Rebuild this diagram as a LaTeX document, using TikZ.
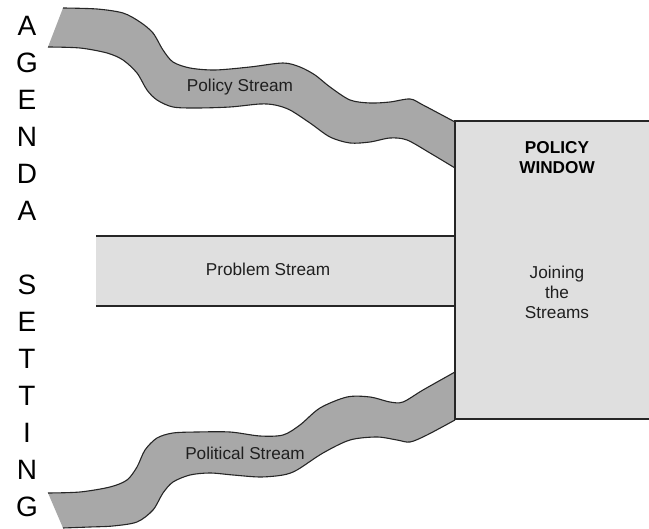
\documentclass[tikz,border=0pt]{standalone}
\usepackage{fontspec}
\setmainfont{Liberation Sans}
\usetikzlibrary{positioning}
\definecolor{grisStream}{RGB}{168,168,168}
\definecolor{grisClaro}{RGB}{223,223,223}
\definecolor{trazo}{RGB}{38,38,38}
\tikzset{
  ms/band/.style={fill=grisStream, draw=none},
  ms/edge/.style={draw=trazo, line width=0.55pt, smooth, tension=0.5},
  ms/bar/.style={fill=grisClaro, draw=none},
  ms/frame/.style={draw=trazo, line width=1pt},
  ms/lbl/.style={font=\fontsize{8.6}{10}\selectfont\color{black!88},
    inner sep=0pt},
  ms/win/.style={font=\fontsize{8.6}{10}\selectfont\color{black!88},
    align=center, inner sep=0pt},
  ms/letters/.style={font=\fontsize{14}{18.5}\selectfont, align=center,
    inner sep=0pt}
}

\begin{document}
\begin{tikzpicture}[x=0.5pt, y=-0.5pt]
  \useasboundingbox (0,0) rectangle (649,529);

  \fill[ms/band] plot[smooth, tension=0.5] coordinates {(63,8) (97,9) (123,13)
      (140,22) (153,33) (163,50) (173,62) (190,68) (215,70) (250,67) (283,63)
      (300,67) (315,75) (330,87) (350,100) (370,103) (390,102) (410,99)
      (423,105) (455,122)}
    -- plot[smooth, tension=0.5] coordinates {(455,168) (430,153) (407,140)
      (390,138) (370,142) (350,143) (330,137) (310,123) (290,110) (275,105)
      (260,104) (230,107) (197,108) (173,107) (157,100) (147,90) (137,73)
      (123,60) (107,53) (80,48) (48,47)} -- cycle;
  \draw[ms/edge] plot coordinates {(63,8) (97,9) (123,13) (140,22) (153,33)
      (163,50) (173,62) (190,68) (215,70) (250,67) (283,63) (300,67) (315,75)
      (330,87) (350,100) (370,103) (390,102) (410,99) (423,105) (455,122)};
  \draw[ms/edge] plot coordinates {(48,47) (80,48) (107,53) (123,60) (137,73)
      (147,90) (157,100) (173,107) (197,108) (230,107) (260,104) (275,105)
      (290,110) (310,123) (330,137) (350,143) (370,142) (390,138) (407,140)
      (430,153) (455,168)};

  \fill[ms/band] plot[smooth, tension=0.5] coordinates {(48,493) (80,492)
      (110,487) (127,480) (137,467) (145,450) (157,438) (173,433) (197,432)
      (230,432) (260,436) (283,435) (300,425) (320,408) (347,397) (370,397)
      (390,402) (403,402) (423,390) (455,372)}
    -- plot[smooth, tension=0.5] coordinates {(455,420) (427,435) (410,442)
      (397,440) (377,437) (350,440) (323,453) (297,470) (283,475) (260,477)
      (233,475) (210,473) (190,475) (173,482) (163,493) (153,510) (137,522)
      (113,526) (90,527) (63,528)} -- cycle;
  \draw[ms/edge] plot coordinates {(48,493) (80,492) (110,487) (127,480)
      (137,467) (145,450) (157,438) (173,433) (197,432) (230,432) (260,436)
      (283,435) (300,425) (320,408) (347,397) (370,397) (390,402) (403,402)
      (423,390) (455,372)};
  \draw[ms/edge] plot coordinates {(63,528) (90,527) (113,526) (137,522)
      (153,510) (163,493) (173,482) (190,475) (210,473) (233,475) (260,477)
      (283,475) (297,470) (323,453) (350,440) (377,437) (397,440) (410,442)
      (427,435) (455,420)};

  \fill[ms/bar] (96,236) rectangle (455,306);
  \draw[ms/frame, line width=0.8pt] (96,236) -- (455,236);
  \draw[ms/frame, line width=0.8pt] (96,306) -- (455,306);

  \fill[ms/bar] (455,121) rectangle (649,419);
  \draw[ms/frame] (649,121) -- (455,121) -- (455,419) -- (649,419);

  \node[ms/letters] (agenda) at (27,267)
    {A\\G\\E\\N\\D\\A\\[18.5pt]S\\E\\T\\T\\I\\N\\G};
  \node[ms/lbl] (policy) at (240,87) {Policy Stream};
  \node[ms/lbl] (problem) at (268,269) {Problem Stream};
  \node[ms/lbl] (political) at (245,453) {Political Stream};
  \node[ms/win, font=\fontsize{8.6}{10}\selectfont\bfseries] (window)
    at (557,158) {POLICY\\WINDOW};
  \node[ms/win] (joining) at (557,292) {Joining\\the\\Streams};
\end{tikzpicture}
\end{document}
